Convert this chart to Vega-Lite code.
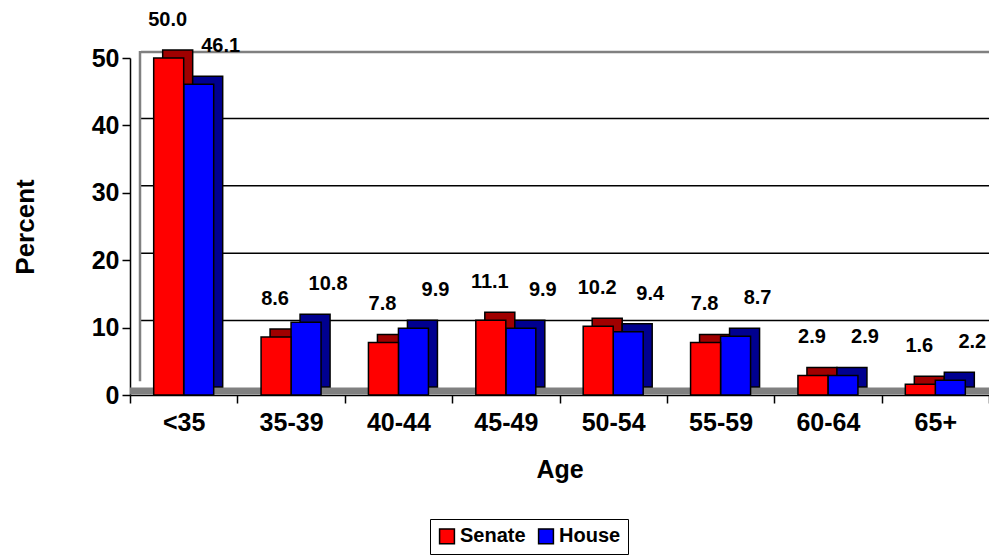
{
  "$schema": "https://vega.github.io/schema/vega-lite/v6.json",
  "width": 859,
  "height": 337,
  "autosize": {"type": "none"},
  "padding": {"left": 130, "top": 58, "right": 0, "bottom": 162},
  "background": "white",
  "config": {
    "view": {"stroke": null},
    "font": "Liberation Sans",
    "text": {"font": "Liberation Sans"}
  },
  "datasets": {
    "ages": [
      {"age": "<35", "chamber": "Senate", "pct": 50.0},
      {"age": "<35", "chamber": "House", "pct": 46.1},
      {"age": "35-39", "chamber": "Senate", "pct": 8.6},
      {"age": "35-39", "chamber": "House", "pct": 10.8},
      {"age": "40-44", "chamber": "Senate", "pct": 7.8},
      {"age": "40-44", "chamber": "House", "pct": 9.9},
      {"age": "45-49", "chamber": "Senate", "pct": 11.1},
      {"age": "45-49", "chamber": "House", "pct": 9.9},
      {"age": "50-54", "chamber": "Senate", "pct": 10.2},
      {"age": "50-54", "chamber": "House", "pct": 9.4},
      {"age": "55-59", "chamber": "Senate", "pct": 7.8},
      {"age": "55-59", "chamber": "House", "pct": 8.7},
      {"age": "60-64", "chamber": "Senate", "pct": 2.9},
      {"age": "60-64", "chamber": "House", "pct": 2.9},
      {"age": "65+", "chamber": "Senate", "pct": 1.6},
      {"age": "65+", "chamber": "House", "pct": 2.2}
    ],
    "grid": [{"v": 10}, {"v": 20}, {"v": 30}, {"v": 40}],
    "one": [{"k": 1}]
  },
  "layer": [
    {
      "data": {"name": "grid"},
      "mark": {"type": "rule", "color": "black", "strokeWidth": 1.5, "yOffset": -7, "xOffset": 11},
      "encoding": {
        "x": {"datum": "<35", "bandPosition": 0},
        "x2": {"datum": "65+", "bandPosition": 1},
        "y": {
          "field": "v", "type": "quantitative",
          "scale": {"domain": [0, 50]},
          "axis": {
            "title": "Percent", "values": [0, 10, 20, 30, 40, 50], "grid": false,
            "labelFont": "Liberation Sans", "labelFontSize": 25, "labelFontWeight": "bold", "labelColor": "black",
            "titleFont": "Liberation Sans", "titleFontSize": 26, "titleFontWeight": "bold", "titleColor": "black",
            "domainColor": "black", "domainWidth": 1.5, "tickColor": "black", "tickWidth": 1.5, "tickSize": 8,
            "labelPadding": 3, "titlePadding": 53
          }
        }
      }
    },
    {
      "data": {"name": "one"},
      "mark": {"type": "rule", "color": "#808080", "strokeWidth": 2.5, "yOffset": -6, "xOffset": 11},
      "encoding": {
        "x": {"datum": "<35", "bandPosition": 0},
        "x2": {"datum": "65+", "bandPosition": 1},
        "y": {"datum": 50}
      }
    },
    {
      "data": {"name": "one"},
      "mark": {"type": "rule", "color": "#808080", "strokeWidth": 7, "yOffset": -4},
      "encoding": {"y": {"datum": 0}}
    },
    {
      "data": {"name": "one"},
      "mark": {"type": "rule", "color": "#808080", "strokeWidth": 2.5, "xOffset": 10, "yOffset": -7, "y2Offset": -7},
      "encoding": {
        "x": {"datum": "<35", "bandPosition": 0},
        "y": {"datum": 1},
        "y2": {"datum": 50}
      }
    },
    {
      "data": {"name": "ages"},
      "transform": [{"filter": "datum.chamber === 'Senate'"}],
      "mark": {"type": "bar", "width": 30, "xOffset": -6, "yOffset": -8, "color": "#A00000", "stroke": "black", "strokeWidth": 1.5},
      "encoding": {
        "x": {"field": "age", "type": "nominal", "sort": ["<35", "35-39", "40-44", "45-49", "50-54", "55-59", "60-64", "65+"]},
        "y": {"field": "pct", "type": "quantitative"}
      }
    },
    {
      "data": {"name": "ages"},
      "transform": [{"filter": "datum.chamber === 'House'"}],
      "mark": {"type": "bar", "width": 30, "xOffset": 24, "yOffset": -8, "color": "#000090", "stroke": "black", "strokeWidth": 1.5},
      "encoding": {
        "x": {"field": "age", "type": "nominal", "sort": ["<35", "35-39", "40-44", "45-49", "50-54", "55-59", "60-64", "65+"]},
        "y": {"field": "pct", "type": "quantitative"}
      }
    },
    {
      "data": {"name": "ages"},
      "transform": [{"filter": "datum.chamber === 'House'"}],
      "mark": {"type": "bar", "width": 30, "xOffset": 15, "stroke": "black", "strokeWidth": 1.5},
      "encoding": {
        "x": {"field": "age", "type": "nominal", "sort": ["<35", "35-39", "40-44", "45-49", "50-54", "55-59", "60-64", "65+"]},
        "y": {"field": "pct", "type": "quantitative"},
        "color": {
          "field": "chamber", "type": "nominal",
          "scale": {"domain": ["Senate", "House"], "range": ["#FF0000", "#0000FF"]}
        }
      }
    },
    {
      "data": {"name": "ages"},
      "transform": [{"filter": "datum.chamber === 'Senate'"}],
      "mark": {"type": "bar", "width": 30, "xOffset": -15, "stroke": "black", "strokeWidth": 1.5},
      "encoding": {
        "x": {
          "field": "age", "type": "nominal",
          "sort": ["<35", "35-39", "40-44", "45-49", "50-54", "55-59", "60-64", "65+"],
          "scale": {"domain": ["<35", "35-39", "40-44", "45-49", "50-54", "55-59", "60-64", "65+"], "paddingInner": 0, "paddingOuter": 0},
          "axis": {
            "title": "Age", "labelAngle": 0, "tickBand": "extent", "labelAlign": "center", "labelBaseline": "top",
            "labelFont": "Liberation Sans", "labelFontSize": 25, "labelFontWeight": "bold", "labelColor": "black",
            "titleFont": "Liberation Sans", "titleFontSize": 25, "titleFontWeight": "bold", "titleColor": "black",
            "domainColor": "black", "domainWidth": 1.5, "tickColor": "black", "tickWidth": 1.5, "tickSize": 8,
            "labelPadding": 7, "titlePadding": 22
          }
        },
        "y": {"field": "pct", "type": "quantitative"},
        "color": {
          "field": "chamber", "type": "nominal",
          "scale": {"domain": ["Senate", "House"], "range": ["#FF0000", "#0000FF"]},
          "legend": {
            "title": null, "orient": "none", "legendX": 300, "legendY": 461, "direction": "horizontal",
            "strokeColor": "black", "padding": 7, "symbolType": "square", "symbolSize": 220,
            "symbolStrokeColor": "black", "symbolStrokeWidth": 1.5,
            "labelFont": "Liberation Sans", "labelFontSize": 20, "labelFontWeight": "bold", "labelColor": "black",
            "columnPadding": 9, "labelOffset": 3
          }
        }
      }
    },
    {
      "data": {"name": "ages"},
      "transform": [{"filter": "datum.chamber === 'Senate'"}],
      "mark": {"type": "text", "dx": -16, "dy": -38, "fontSize": 20, "fontWeight": "bold", "color": "black"},
      "encoding": {
        "x": {"field": "age", "type": "nominal", "sort": ["<35", "35-39", "40-44", "45-49", "50-54", "55-59", "60-64", "65+"]},
        "y": {"field": "pct", "type": "quantitative"},
        "text": {"field": "pct", "type": "quantitative", "format": ".1f"}
      }
    },
    {
      "data": {"name": "ages"},
      "transform": [{"filter": "datum.chamber === 'House'"}],
      "mark": {"type": "text", "dx": 37, "dy": -38, "fontSize": 20, "fontWeight": "bold", "color": "black"},
      "encoding": {
        "x": {"field": "age", "type": "nominal", "sort": ["<35", "35-39", "40-44", "45-49", "50-54", "55-59", "60-64", "65+"]},
        "y": {"field": "pct", "type": "quantitative"},
        "text": {"field": "pct", "type": "quantitative", "format": ".1f"}
      }
    }
  ]
}
